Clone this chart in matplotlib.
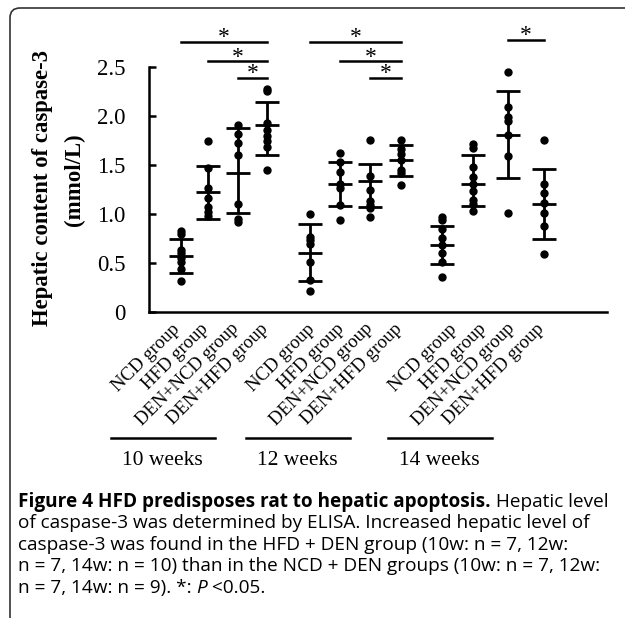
import matplotlib
matplotlib.use("Agg")
import matplotlib.pyplot as plt
import matplotlib.transforms as mtransforms
from matplotlib.patches import FancyBboxPatch

plt.rcParams['font.family'] = 'Liberation Serif'

# ---- data (mmol/L) ----
group_names = ['NCD group', 'HFD group', 'DEN+NCD group', 'DEN+HFD group']
week_names = ['10 weeks', '12 weeks', '14 weeks']
tick_labels = group_names * 3

centre = [0.57, 1.22, 1.42, 1.91,
          0.60, 1.31, 1.34, 1.55,
          0.68, 1.31, 1.81, 1.10]
upper = [0.74, 1.49, 1.88, 2.14,
         0.90, 1.53, 1.51, 1.70,
         0.88, 1.60, 2.26, 1.46]
lower = [0.40, 0.95, 1.01, 1.60,
         0.32, 1.08, 1.07, 1.39,
         0.49, 1.08, 1.37, 0.75]

points = [
    [0.83, 0.80, 0.63, 0.60, 0.55, 0.51, 0.44, 0.32],
    [1.74, 1.47, 1.27, 1.16, 1.07, 1.02, 0.98],
    [1.91, 1.82, 1.72, 1.60, 1.10, 0.95, 0.92],
    [2.28, 2.26, 1.93, 1.86, 1.80, 1.74, 1.68, 1.45],
    [1.00, 0.77, 0.73, 0.69, 0.51, 0.33, 0.21],
    [1.62, 1.53, 1.43, 1.31, 1.27, 1.09, 0.94],
    [1.76, 1.39, 1.25, 1.13, 1.09, 1.06, 0.97],
    [1.76, 1.66, 1.61, 1.55, 1.45, 1.42, 1.30],
    [0.97, 0.94, 0.85, 0.76, 0.68, 0.60, 0.51, 0.36],
    [1.71, 1.67, 1.48, 1.38, 1.31, 1.23, 1.14, 1.10, 1.03],
    [2.45, 2.09, 1.99, 1.95, 1.81, 1.59, 1.01],
    [1.76, 1.31, 1.21, 1.11, 1.01, 0.88, 0.59],
]

# significant pairs (index a, index b, bar height)
sig_pairs = [(0, 3, 2.76), (1, 3, 2.56), (2, 3, 2.39),
             (4, 7, 2.76), (5, 7, 2.56), (6, 7, 2.39),
             (10, 11, 2.78)]

# ---- layout ----
data_pos = [0, 0.9, 1.9, 2.87, 4.3, 5.3, 6.3, 7.33, 8.7, 9.73, 10.9, 12.1]
tick_pos = [0.07, 1.03, 2.03, 3.03, 4.57, 5.57, 6.5, 7.47, 9.3, 10.3, 11.23, 12.23]
half_w = 0.39

W, H = 625, 618
fig = plt.figure(figsize=(W / 100, H / 100), dpi=100)
ax = fig.add_axes([149 / W, 306 / H, 458 / W, 245 / H])
renderer = fig.canvas.get_renderer()

for x, c, hi, lo, pts in zip(data_pos, centre, upper, lower, points):
    ax.vlines(x, lo, hi, color='black', lw=2)
    ax.hlines([lo, c, hi], x - half_w, x + half_w, color='black', lw=2)
    ax.plot([x] * len(pts), pts, 'o', color='black', ms=5, zorder=3)

for a, b, h in sig_pairs:
    ax.plot([data_pos[a], data_pos[b]], [h, h], color='black', lw=1.8, clip_on=False)
    ax.text((data_pos[a] + data_pos[b]) / 2, h - 0.015, '*', ha='center', va='baseline',
            fontsize=17, clip_on=False)

ax.set_xlim(-1.067, 14.2)
ax.set_ylim(0, 2.5)
ax.set_yticks([0, 0.5, 1.0, 1.5, 2.0, 2.5])
ax.set_yticklabels(['0', '0.5', '1.0', '1.5', '2.0', '2.5'], fontsize=16.5)
ax.tick_params(axis='y', direction='in', length=5, width=1.8, pad=17)
ax.set_xticks(tick_pos)
ax.set_xticklabels(tick_labels, rotation=45, ha='right', va='top', fontsize=13.5)
ax.tick_params(axis='x', length=0, pad=6)
ax.spines['top'].set_visible(False)
ax.spines['right'].set_visible(False)
ax.spines['left'].set_linewidth(1.8)
ax.spines['bottom'].set_linewidth(1.8)

# y label as two rotated lines; first line sized to span ~277 px
ylab1 = fig.text(43 / W, 1 - 188.5 / H, 'Hepatic content of caspase-3', rotation=90,
                 ha='center', va='center', fontsize=18, fontweight='bold')
span = ylab1.get_window_extent(renderer=renderer).height
ylab_size = 18 * 277 / span
ylab1.set_fontsize(ylab_size)
fig.text(74 / W, 1 - 180 / H, '(mmol/L)', rotation=90, ha='center', va='center',
         fontsize=ylab_size, fontweight='bold')

# week brackets under the tick labels
trans = mtransforms.blended_transform_factory(ax.transData, ax.transAxes)
for k, wk in enumerate(week_names):
    x0 = tick_pos[4 * k]
    ax.plot([x0 - 2.4, x0 + 1.05], [-0.514, -0.514], color='black', lw=1.8,
            transform=trans, clip_on=False)
    ax.text(x0 - 0.68, -0.608, wk, ha='center', va='center', fontsize=15.5,
            transform=trans)

# frame around figure + caption
frame = FancyBboxPatch((10 / W, -0.1), 1.2, (H - 8) / H + 0.1,
                       boxstyle='round,pad=0,rounding_size=0.016',
                       transform=fig.transFigure, fill=False, ec='#333333', lw=1.2)
fig.patches.append(frame)

# caption
cap_font = 'Open Sans'
cap_size = 13.7


def chain(x, y, parts):
    for txt, kw in parts:
        t = fig.text(x, y, txt, fontsize=cap_size, family=cap_font, va='baseline', **kw)
        bb = t.get_window_extent(renderer=renderer)
        x = bb.x1 / fig.bbox.width


lines = [
    [('Figure 4 HFD predisposes rat to hepatic apoptosis.', {'weight': 'bold'}),
     (' Hepatic level', {})],
    [('of caspase-3 was determined by ELISA. Increased hepatic level of', {})],
    [('caspase-3 was found in the HFD + DEN group (10w: n = 7, 12w:', {})],
    [('n = 7, 14w: n = 10) than in the NCD + DEN groups (10w: n = 7, 12w:', {})],
    [('n = 7, 14w: n = 9). *: ', {}), ('P', {'style': 'italic'}), (' <0.05.', {})],
]
baselines = [507, 528, 550, 571, 593]
for parts, yb in zip(lines, baselines):
    chain(18 / W, 1 - yb / H, parts)

fig.savefig('out.png', dpi=100)
